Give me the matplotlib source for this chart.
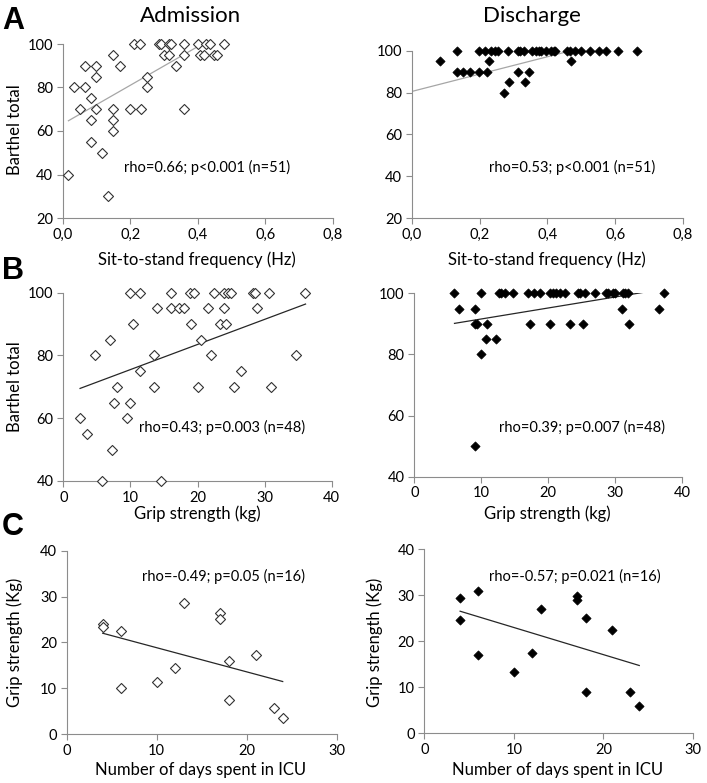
import numpy as np
import matplotlib.pyplot as plt

W, H = 707, 783
plt.rcParams['font.family'] = ['Lato', 'DejaVu Sans']

# --- A: sit-to-stand frequency (Hz) vs Barthel total ---
sts_adm_x = [0.212, 0.228, 0.284, 0.292, 0.314, 0.321, 0.360, 0.401, 0.426, 0.436, 0.477,
             0.149, 0.301, 0.314, 0.358, 0.406, 0.418, 0.448, 0.457,
             0.066, 0.099, 0.170, 0.336,
             0.099, 0.250,
             0.032, 0.066, 0.250,
             0.083,
             0.050, 0.099, 0.149, 0.200, 0.232, 0.358,
             0.083, 0.149,
             0.149, 0.083, 0.116, 0.017, 0.133]
sts_adm_y = [100] * 11 + [95] * 8 + [90] * 4 + [85] * 2 + [80] * 3 + [75] + \
            [70] * 6 + [65] * 2 + [60, 55, 50, 40, 30]

sts_dis_x = [0.134, 0.199, 0.217, 0.234, 0.246, 0.254, 0.284, 0.313, 0.320, 0.332, 0.355,
             0.367, 0.374, 0.382, 0.396, 0.412, 0.419, 0.424, 0.458, 0.466, 0.481, 0.498,
             0.525, 0.552, 0.574, 0.608, 0.665,
             0.084, 0.229, 0.471,
             0.134, 0.151, 0.172, 0.199, 0.222, 0.313, 0.345,
             0.286, 0.333,
             0.271]
sts_dis_y = [100] * 27 + [95] * 3 + [90] * 7 + [85] * 2 + [80]

# --- B: grip strength (kg) vs Barthel total ---
grip_adm_x = [9.95, 11.4, 16.0, 18.9, 19.5, 22.5, 24.0, 24.5, 25.0, 28.2, 28.5, 30.7, 36.0,
              13.9, 16.0, 17.2, 18.0, 21.5, 24.0, 28.8,
              10.4, 19.0, 23.4, 24.3,
              6.9, 20.5,
              4.7, 13.5, 22.0, 34.7,
              11.4, 26.5,
              8.0, 13.5, 20.0, 25.5, 31.0,
              7.5, 10.0,
              2.5, 9.5,
              3.5, 7.2, 5.7, 14.5]
grip_adm_y = [100] * 13 + [95] * 7 + [90] * 4 + [85] * 2 + [80] * 4 + [75] * 2 + \
             [70] * 5 + [65] * 2 + [60] * 2 + [55, 50, 40, 40]

grip_dis_x = [5.97, 10.0, 12.7, 13.0, 13.5, 14.8, 16.9, 17.9, 18.8, 20.3, 20.7, 21.2, 21.7,
              22.5, 24.5, 24.7, 25.5, 27.0, 28.6, 28.85, 29.6, 29.9, 31.1, 31.5, 31.9, 37.3,
              6.7, 9.0, 31.0, 36.5,
              9.0, 9.3, 10.9, 17.3, 20.2, 23.2, 25.2, 32.0,
              10.7, 12.2,
              10.0, 9.0]
grip_dis_y = [100] * 26 + [95] * 4 + [90] * 8 + [85] * 2 + [80, 50]

# --- C: days in ICU vs grip strength (kg) ---
icu_adm_x = [4, 4, 6, 6, 10, 12, 13, 17, 17, 18, 18, 21, 23, 24]
icu_adm_y = [24.1, 23.4, 22.5, 10.0, 11.4, 14.5, 28.5, 26.5, 25.0, 16.0, 7.5, 17.2, 5.7, 3.5]
icu_dis_x = [4, 4, 6, 6, 10, 12, 13, 17, 17, 18, 18, 21, 23, 24]
icu_dis_y = [29.4, 24.7, 30.9, 17.0, 13.4, 17.4, 27.0, 29.9, 29.0, 25.1, 8.9, 22.5, 8.9, 5.9]

# linear trend lines: (intercept, slope, x from, x to)
trend_a_adm = (63.2, 89.0, 0.017, 0.477)
trend_a_dis = (80.5, 41.5, 0.0, 0.665)
trend_b_adm = (67.5, 0.80, 2.5, 36.1)
trend_b_dis = (88.0, 0.36, 6.0, 37.3)
trend_c_adm = (24.1, -0.527, 4, 24)
trend_c_dis = (28.9, -0.59, 4, 24)

stats_a = ["rho=0.66; p<0.001 (n=51)", "rho=0.53; p<0.001 (n=51)"]
stats_b = ["rho=0.43; p=0.003 (n=48)", "rho=0.39; p=0.007 (n=48)"]
stats_c = ["rho=-0.49; p=0.05 (n=16)", "rho=-0.57; p=0.021 (n=16)"]

ticks_a_x = [0.0, 0.2, 0.4, 0.6, 0.8]
ticklabels_a_x = ["0,0", "0,2", "0,4", "0,6", "0,8"]
ticks_a_y = [20, 40, 60, 80, 100]
ticks_b_x = [0, 10, 20, 30, 40]
ticks_b_y = [40, 60, 80, 100]
ticks_c_x = [0, 10, 20, 30]
ticks_c_y = [0, 10, 20, 30, 40]

GRIS = "#8c8c8c"


def rect(x0, x1, ytop, ybot):
    """Pixel box (top-left origin) -> figure fraction rect."""
    return [x0 / W, 1 - ybot / H, (x1 - x0) / W, (ybot - ytop) / H]


def panel(fig, box, xs, ys, filled, trend, trend_col, xt, yt, xtl=None):
    ax = fig.add_axes(rect(*box))
    ax.set_xlim(xt[0], xt[-1])
    ax.set_ylim(yt[0], yt[-1])
    b0, b1, xa, xb = trend
    tx = np.array([xa, xb])
    ax.plot(tx, b0 + b1 * tx, color=trend_col, lw=0.9, zorder=2)
    if filled:
        ax.scatter(xs, ys, marker="D", s=22, facecolor="black", edgecolor="black",
                   linewidth=0.5, clip_on=False, zorder=3)
    else:
        ax.scatter(xs, ys, marker="D", s=26, facecolor="white", edgecolor="#333333",
                   linewidth=0.8, clip_on=False, zorder=3)
    for s in ["top", "right"]:
        ax.spines[s].set_visible(False)
    for s in ["left", "bottom"]:
        ax.spines[s].set_color(GRIS)
        ax.spines[s].set_linewidth(0.8)
    ax.set_xticks(xt)
    ax.set_yticks(yt)
    if xtl is not None:
        ax.set_xticklabels(xtl)
    ax.tick_params(colors=GRIS, labelcolor="black", labelsize=10.5, length=4,
                   width=0.8, direction="out", pad=3)
    return ax


fig = plt.figure(figsize=(W / 100, H / 100), dpi=100)

panel(fig, (62.7, 332.7, 44, 218), sts_adm_x, sts_adm_y, False, trend_a_adm, "#a6a6a6",
      ticks_a_x, ticks_a_y, ticklabels_a_x)
panel(fig, (411.7, 683, 50.7, 218), sts_dis_x, sts_dis_y, True, trend_a_dis, "#a6a6a6",
      ticks_a_x, ticks_a_y, ticklabels_a_x)
panel(fig, (63.3, 331.7, 292.7, 481), grip_adm_x, grip_adm_y, False, trend_b_adm, "#262626",
      ticks_b_x, ticks_b_y)
panel(fig, (414.3, 682.3, 293.3, 476.7), grip_dis_x, grip_dis_y, True, trend_b_dis, "#262626",
      ticks_b_x, ticks_b_y)
panel(fig, (66.7, 336.7, 550.7, 734), icu_adm_x, icu_adm_y, False, trend_c_adm, "#262626",
      ticks_c_x, ticks_c_y)
panel(fig, (424.3, 693, 549.3, 733.3), icu_dis_x, icu_dis_y, True, trend_c_dis, "#262626",
      ticks_c_x, ticks_c_y)


def txt(x, y, s, **kw):
    fig.text(x / W, 1 - y / H, s, ha="center", va="center", **kw)


# column titles and panel letters
txt(190, 16, "Admission", fontsize=16)
txt(532, 16, "Discharge", fontsize=16)
for letra, y in zip("ABC", [21, 271, 527]):
    txt(13, y, letra, fontsize=22, fontweight="bold", family="Liberation Sans")

# correlation annotations
for (x, y), s in zip([(207, 167), (572, 167), (222, 427), (582, 427), (223, 576), (575, 576)],
                     stats_a + stats_b + stats_c):
    txt(x, y, s, fontsize=10.5)

# axis labels
for x in (197, 547):
    txt(x, 260, "Sit-to-stand frequency (Hz)", fontsize=12)
    txt(x, 514, "Grip strength (kg)", fontsize=12)
txt(201, 770, "Number of days spent in ICU", fontsize=12)
txt(558, 770, "Number of days spent in ICU", fontsize=12)
txt(15, 130, "Barthel total", fontsize=12, rotation=90)
txt(15, 387, "Barthel total", fontsize=12, rotation=90)
txt(15, 642, "Grip strength (Kg)", fontsize=12, rotation=90)
txt(375, 642, "Grip strength (Kg)", fontsize=12, rotation=90)

fig.savefig("out.png", dpi=100)
